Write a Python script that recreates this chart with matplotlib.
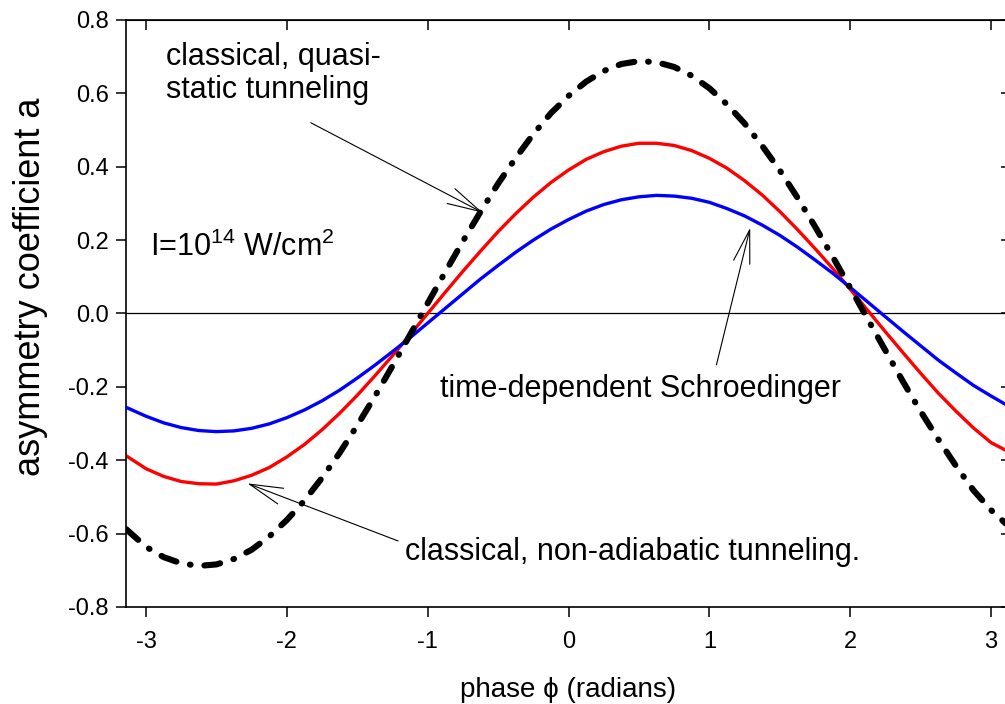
import numpy as np
import matplotlib
matplotlib.use("Agg")
import matplotlib.pyplot as plt

plt.rcParams['font.family'] = ['Liberation Sans', 'DejaVu Sans']
plt.rcParams['lines.scale_dashes'] = False

# phase grid (radians) and asymmetry coefficient for the three models
phase = [-3.14, -3.0, -2.875, -2.75, -2.625, -2.5, -2.375, -2.25, -2.125, -2.0,
         -1.875, -1.75, -1.625, -1.5, -1.375, -1.25, -1.125, -1.0, -0.875, -0.75,
         -0.625, -0.5, -0.375, -0.25, -0.125, 0.0, 0.125, 0.25, 0.375, 0.5,
         0.625, 0.75, 0.875, 1.0, 1.125, 1.25, 1.375, 1.5, 1.625, 1.75,
         1.875, 2.0, 2.125, 2.25, 2.375, 2.5, 2.625, 2.75, 2.875, 3.0, 3.14]

tdse = [-0.256, -0.280, -0.298, -0.311, -0.319, -0.322, -0.320, -0.313, -0.301, -0.284,
        -0.263, -0.238, -0.209, -0.176, -0.141, -0.104, -0.066, -0.026, 0.014, 0.054,
        0.094, 0.131, 0.167, 0.200, 0.230, 0.256, 0.279, 0.297, 0.310, 0.318,
        0.322, 0.320, 0.314, 0.303, 0.286, 0.266, 0.241, 0.213, 0.181, 0.146,
        0.110, 0.071, 0.031, -0.009, -0.049, -0.088, -0.127, -0.162, -0.196, -0.225, -0.256]

nonadiabatic = [-0.388, -0.423, -0.444, -0.458, -0.464, -0.465, -0.456, -0.441, -0.420, -0.391,
                -0.357, -0.317, -0.272, -0.223, -0.170, -0.115, -0.058, 0.000, 0.058, 0.115,
                0.170, 0.223, 0.272, 0.317, 0.357, 0.391, 0.420, 0.441, 0.456, 0.464,
                0.464, 0.458, 0.444, 0.423, 0.396, 0.362, 0.323, 0.278, 0.229, 0.177,
                0.123, 0.066, 0.008, -0.050, -0.107, -0.163, -0.217, -0.266, -0.312, -0.352, -0.380]

quasistatic = [-0.588, -0.636, -0.664, -0.681, -0.688, -0.684, -0.669, -0.644, -0.608, -0.563,
               -0.510, -0.448, -0.380, -0.305, -0.226, -0.143, -0.058, 0.028, 0.113, 0.197,
               0.277, 0.354, 0.424, 0.489, 0.546, 0.593, 0.632, 0.661, 0.680, 0.688,
               0.685, 0.672, 0.648, 0.614, 0.570, 0.518, 0.457, 0.390, 0.316, 0.237,
               0.155, 0.070, -0.016, -0.101, -0.186, -0.267, -0.343, -0.415, -0.482, -0.536, -0.585]

xticks = [-3, -2, -1, 0, 1, 2, 3]
yticks = [-0.8, -0.6, -0.4, -0.2, 0.0, 0.2, 0.4, 0.6, 0.8]

fig = plt.figure(figsize=(10.05, 7.04), dpi=100)
ax = fig.add_axes([0.1254, 0.1378, 0.8806, 0.8338])

ax.axhline(0, color='black', lw=0.9, zorder=1)
ax.plot(phase, nonadiabatic, color='#ff0000', lw=2.4, zorder=2)
ax.plot(phase, tdse, color='#0000ff', lw=2.4, zorder=3)
ax.plot(phase, quasistatic, color='black', lw=4.4, dashes=(11.5, 10, 0.5, 10),
        dash_capstyle='round', zorder=4)

ax.set_xlim(-np.pi, np.pi)
ax.set_ylim(-0.8, 0.8)
ax.set_xticks(xticks)
ax.set_xticklabels([str(t) for t in xticks])
ax.set_yticks(yticks)
ax.set_yticklabels(['%.1f' % t for t in yticks])
ax.tick_params(direction='out', length=7.5, width=1.1, labelsize=17)
ax.tick_params(axis='x', pad=10)
ax.tick_params(axis='y', pad=5)
for s in ax.spines.values():
    s.set_linewidth(1.2)

# inward ticks on the top and right edges
top = ax.secondary_xaxis('top')
top.set_xticks(xticks)
top.tick_params(direction='in', length=7, width=1.1, labeltop=False)
right = ax.secondary_yaxis('right')
right.set_yticks(yticks)
right.tick_params(direction='in', length=7, width=1.1, labelright=False)

ax.set_xlabel('phase ϕ (radians)', fontsize=20, labelpad=17)
ax.set_ylabel('asymmetry coefficient a', fontsize=26)
ax.yaxis.set_label_coords(-0.088, 0.545)

arrow = dict(arrowstyle='->,head_length=2.4,head_width=0.6', lw=0.8, color='black',
             shrinkA=0, shrinkB=0)

ax.text(-2.86, 0.74, 'classical, quasi-\nstatic tunneling', fontsize=22,
        ha='left', va='top', linespacing=1.15)
ax.annotate('', xy=(-0.61, 0.275), xytext=(-1.83, 0.52), arrowprops=arrow)

ax.text(-0.91, -0.205, 'time-dependent Schroedinger', fontsize=22,
        ha='left', va='center')
ax.annotate('', xy=(1.29, 0.234), xytext=(1.05, -0.14), arrowprops=arrow)

ax.text(-1.16, -0.65, 'classical, non-adiabatic tunneling.', fontsize=22,
        ha='left', va='center')
ax.annotate('', xy=(-2.28, -0.463), xytext=(-1.21, -0.62), arrowprops=arrow)

ax.text(-2.97, 0.18, r'I=10$^{\mathregular{14}}$ W/cm$^{\mathregular{2}}$', fontsize=22,
        ha='left', va='center')

fig.savefig('out.png', dpi=100)
